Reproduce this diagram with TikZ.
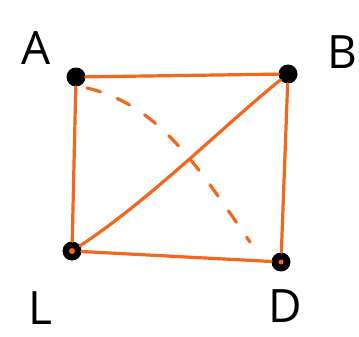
\documentclass[tikz,border=0pt]{standalone}
\usepackage{fontspec}
\setmainfont{Open Sans}
\definecolor{pen}{RGB}{242,102,30}
\begin{document}
\begin{tikzpicture}[x=1pt,y=-1pt,
  vert/.style={circle,fill=black,inner sep=0pt,minimum size=19pt},
  edge/.style={draw=pen,line width=3.2pt,line cap=round},
  dashedge/.style={edge,dash pattern=on 14pt off 18pt},
  lbl/.style={font=\fontsize{46}{46}\selectfont,text=black,inner sep=0pt}]
\useasboundingbox (0,0) rectangle (359,337);
\node[vert] (A) at (76,77) {};
\node[vert] (B) at (288,74) {};
\node[vert] (C) at (72,251) {};
\node[vert] (D) at (281,262) {};
\node[fill=pen,circle,inner sep=0pt,minimum size=6pt] at (C) {};
\node[fill=pen,circle,inner sep=0pt,minimum size=5pt] at (D) {};
\node[lbl] (la) at (36,48) {A};
\node[lbl] (lb) at (342,52) {B};
\node[lbl] (lc) at (40,308) {L};
\node[lbl] (ld) at (285,306) {D};
\draw[edge] (A) -- (B);
\draw[edge] (A) -- (C);
\draw[edge] (B) -- (D);
\draw[edge] (C) -- (D);
\draw[edge] (C) .. controls (150,200) and (230,120) .. (B);
\draw[dashedge] (87,88) .. controls (160,105) and (200,170) .. (250,242);
\end{tikzpicture}
\end{document}
